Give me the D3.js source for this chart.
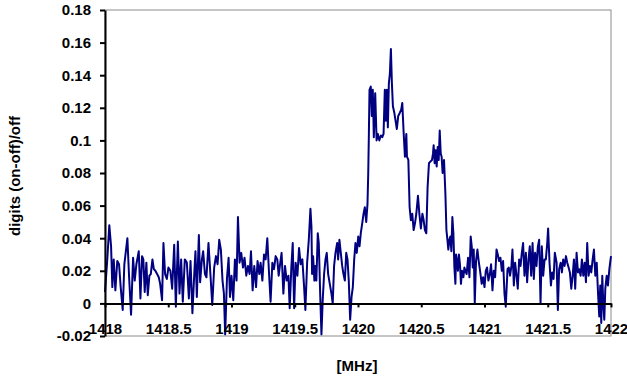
<!DOCTYPE html>
<html>
<head>
<meta charset="utf-8">
<script src="https://cdn.jsdelivr.net/npm/d3@7"></script>
<style>
  html, body { margin: 0; padding: 0; background: #fff; }
  svg { display: block; }
  text { font-family: Arial, "Liberation Sans", sans-serif; font-weight: bold; }
</style>
</head>
<body>
<svg id="chart" width="627" height="379"></svg>
<script>
// ---- data ----
const freqs = [
1418.000,1418.018,1418.034,1418.048,1418.058,1418.069,1418.082,1418.097,1418.111,1418.124,
1418.140,1418.153,1418.177,1418.190,1418.206,1418.222,1418.235,1418.248,1418.267,1418.280,
1418.293,1418.303,1418.314,1418.327,1418.338,1418.351,1418.362,1418.375,1418.386,1418.398,
1418.412,1418.425,1418.436,1418.451,1418.462,1418.475,1418.489,1418.501,1418.517,1418.531,
1418.547,1418.560,1418.576,1418.589,1418.602,1418.615,1418.631,1418.647,1418.663,1418.676,
1418.691,1418.705,1418.715,1418.726,1418.742,1418.752,1418.766,1418.776,1418.790,1418.802,
1418.818,1418.834,1418.848,1418.863,1418.877,1418.890,1418.903,1418.916,1418.929,1418.940,
1418.950,1418.964,1418.977,1418.988,1419.000,1419.014,1419.027,1419.040,1419.051,1419.064,
1419.077,1419.091,1419.103,1419.117,1419.130,1419.143,1419.154,1419.167,1419.180,1419.194,
1419.206,1419.220,1419.230,1419.244,1419.257,1419.270,1419.283,1419.297,1419.309,1419.323,
1419.336,1419.349,1419.362,1419.373,1419.384,1419.396,1419.410,1419.423,1419.436,1419.450,
1419.460,1419.473,1419.484,1419.495,1419.507,1419.521,1419.534,1419.547,1419.560,1419.574,
1419.584,1419.598,1419.611,1419.624,1419.632,1419.637,1419.645,1419.655,1419.663,1419.671,
1419.682,1419.690,1419.701,1419.711,1419.721,1419.732,1419.743,1419.753,1419.764,1419.777,
1419.790,1419.800,1419.811,1419.822,1419.835,1419.843,1419.853,1419.864,1419.875,1419.885,
1419.896,1419.907,1419.917,1419.927,1419.938,1419.949,1419.959,1419.970,1419.980,1419.990,
1420.002,1420.012,1420.022,1420.033,1420.044,1420.054,1420.065,1420.075,1420.081,1420.086,
1420.091,1420.101,1420.109,1420.117,1420.125,1420.136,1420.147,1420.157,1420.168,1420.181,
1420.192,1420.202,1420.212,1420.220,1420.228,1420.236,1420.244,1420.252,1420.260,1420.268,
1420.276,1420.287,1420.297,1420.307,1420.318,1420.331,1420.342,1420.350,1420.360,1420.371,
1420.382,1420.387,1420.398,1420.408,1420.418,1420.429,1420.440,1420.450,1420.461,1420.474,
1420.485,1420.497,1420.509,1420.519,1420.529,1420.540,1420.550,1420.561,1420.572,1420.585,
1420.593,1420.598,1420.606,1420.614,1420.622,1420.630,1420.638,1420.646,1420.654,1420.661,
1420.669,1420.680,1420.691,1420.699,1420.707,1420.714,1420.722,1420.730,1420.738,1420.746,
1420.754,1420.762,1420.770,1420.775,1420.783,1420.790,1420.798,1420.806,1420.814,1420.822,
1420.833,1420.841,1420.849,1420.859,1420.870,1420.881,1420.891,1420.899,1420.907,1420.915,
1420.923,1420.933,1420.944,1420.954,1420.965,1420.978,1420.989,1421.000,1421.010,1421.020,
1421.031,1421.042,1421.052,1421.063,1421.073,1421.084,1421.095,1421.105,1421.115,1421.126,
1421.137,1421.147,1421.158,1421.168,1421.182,1421.192,1421.202,1421.213,1421.221,1421.232,
1421.242,1421.253,1421.263,1421.274,1421.285,1421.295,1421.305,1421.316,1421.327,1421.337,
1421.348,1421.358,1421.369,1421.380,1421.390,1421.400,1421.411,1421.422,1421.432,1421.443,
1421.453,1421.464,1421.475,1421.485,1421.496,1421.503,1421.514,1421.525,1421.535,1421.546,
1421.556,1421.570,1421.580,1421.590,1421.602,1421.612,1421.622,1421.633,1421.644,1421.654,
1421.665,1421.675,1421.686,1421.697,1421.707,1421.717,1421.728,1421.739,1421.749,1421.760,
1421.770,1421.781,1421.792,1421.802,1421.812,1421.823,1421.834,1421.844,1421.855,1421.865,
1421.876,1421.887,1421.897,1421.907,1421.915,1421.923,1421.931,1421.939,1421.947,1421.955,
1421.966,1421.976,1421.987,1422.000
];
const ratio = [
0.007,0.027,0.048,0.035,0.010,0.027,0.008,0.026,0.024,0.010,
-0.004,0.024,0.040,0.017,-0.007,0.028,0.014,0.024,0.032,0.003,
0.029,0.027,0.007,0.025,0.005,0.017,0.018,0.027,0.021,0.020,
0.018,0.016,0.012,0.002,0.037,0.018,0.015,0.022,0.020,0.009,
0.036,-0.002,0.038,0.006,0.027,0.001,0.027,0.025,0.003,0.026,
-0.006,0.017,0.032,0.004,0.042,0.013,0.027,0.032,0.018,0.016,
0.037,0.017,-0.001,0.022,0.029,0.024,0.039,0.033,0.014,0.006,
-0.019,0.015,0.028,0.004,0.017,0.002,0.027,0.014,0.053,0.025,
0.031,0.022,0.028,0.017,0.023,0.018,0.032,0.008,0.023,0.010,
0.026,0.018,0.025,0.014,0.030,0.027,0.040,0.018,0.001,0.025,
0.021,0.029,0.027,0.017,0.024,0.031,0.006,0.023,0.014,0.017,
-0.003,0.022,0.037,-0.003,0.025,0.017,0.034,0.024,0.027,0.010,
-0.004,0.025,0.039,0.058,0.047,0.018,0.029,0.014,0.023,0.014,
0.043,0.037,0.006,-0.019,0.002,0.018,0.027,0.031,0.018,0.012,
0.006,0.000,0.023,0.031,0.037,0.027,0.039,0.031,0.023,0.018,
0.014,0.031,0.027,0.014,-0.010,0.004,0.010,0.027,0.037,0.031,
0.041,0.035,0.043,0.049,0.055,0.059,0.050,0.061,0.080,0.104,
0.131,0.133,0.115,0.131,0.102,0.129,0.100,0.104,0.100,0.103,
0.102,0.104,0.131,0.112,0.131,0.108,0.135,0.141,0.156,0.135,
0.121,0.117,0.112,0.107,0.115,0.117,0.119,0.123,0.106,0.090,
0.104,0.090,0.088,0.059,0.051,0.055,0.045,0.049,0.055,0.066,
0.055,0.046,0.055,0.051,0.045,0.043,0.071,0.086,0.087,0.088,
0.092,0.097,0.086,0.094,0.084,0.096,0.088,0.106,0.092,0.090,
0.080,0.088,0.067,0.045,0.039,0.033,0.039,0.041,0.032,0.053,
0.043,0.022,0.012,0.030,0.026,0.020,0.030,0.024,0.012,0.020,
0.016,0.022,0.020,0.018,0.028,0.016,0.041,0.035,0.022,0.033,
0.000,0.026,0.033,0.026,0.020,0.012,0.016,0.010,0.020,0.022,
0.014,0.018,0.024,0.008,0.020,0.016,0.033,0.030,0.026,0.028,
0.020,0.026,0.006,-0.002,0.021,0.022,0.017,0.023,0.033,0.011,
0.025,0.017,0.009,0.027,0.023,0.031,0.037,0.017,0.031,0.013,
0.027,0.035,0.017,0.037,0.015,0.031,0.023,0.035,0.039,0.000,
0.035,0.017,0.027,0.027,0.037,0.046,0.025,0.011,0.019,0.015,
0.031,0.025,-0.004,0.021,0.025,0.019,0.027,0.023,0.029,0.025,
0.022,0.019,0.009,0.017,0.027,0.009,0.031,0.019,0.021,0.017,
0.027,0.017,0.025,0.013,0.037,0.017,0.023,0.019,0.027,0.033,
0.017,0.025,0.007,-0.008,0.011,-0.012,0.017,0.000,-0.010,0.009,
0.017,0.011,0.021,0.029
];
const xTickValues = [1418, 1418.5, 1419, 1419.5, 1420, 1420.5, 1421, 1421.5, 1422];
const xTickLabels = ["1418", "1418.5", "1419", "1419.5", "1420", "1420.5", "1421", "1421.5", "1422"];
const yTickValues = [-0.02, 0, 0.02, 0.04, 0.06, 0.08, 0.1, 0.12, 0.14, 0.16, 0.18];
const yTickLabels = ["-0.02", "0", "0.02", "0.04", "0.06", "0.08", "0.1", "0.12", "0.14", "0.16", "0.18"];
const xTitle = "[MHz]";
const yTitle = "digits (on-off)/off";

// ---- layout ----
const svg = d3.select("#chart");
const L = 105, R = 611, T = 10, B = 336;
const fontSize = 15;

const x = d3.scaleLinear().domain([1418, 1422]).range([L, R]);
const y = d3.scaleLinear().domain([-0.02, 0.18]).range([B, T]);

// plot-area border
svg.append("rect")
  .attr("x", L).attr("y", T).attr("width", R - L).attr("height", B - T)
  .attr("fill", "none").attr("stroke", "#8c8c8c").attr("stroke-width", 1);

// data line
const pts = freqs.map((f, i) => [f, ratio[i]]);
svg.append("path")
  .datum(pts)
  .attr("fill", "none")
  .attr("stroke", "#000080")
  .attr("stroke-width", 2)
  .attr("stroke-linejoin", "round")
  .attr("d", d3.line().x(d => x(d[0])).y(d => y(d[1])));

// y axis
const yAxis = svg.append("g")
  .attr("transform", `translate(${L},0)`)
  .call(d3.axisLeft(y).tickValues(yTickValues)
    .tickFormat((d, i) => yTickLabels[i]).tickSize(5).tickSizeOuter(0).tickPadding(9));
yAxis.selectAll("path, line").attr("stroke", "#000").attr("stroke-width", 2);
yAxis.selectAll("text").attr("font-size", fontSize).attr("fill", "#000")
  .style("font-family", "Arial, 'Liberation Sans', sans-serif").style("font-weight", "bold");

// x axis at y = 0
const xAxis = svg.append("g")
  .attr("transform", `translate(0,${y(0)})`)
  .call(d3.axisBottom(x).tickValues(xTickValues)
    .tickFormat((d, i) => xTickLabels[i]).tickSize(4).tickSizeOuter(0).tickPadding(16));
xAxis.selectAll("path, line").attr("stroke", "#000").attr("stroke-width", 2);
xAxis.selectAll("text").attr("font-size", fontSize).attr("fill", "#000")
  .style("font-family", "Arial, 'Liberation Sans', sans-serif").style("font-weight", "bold");

// axis titles
svg.append("text")
  .attr("x", 357).attr("y", 371)
  .attr("text-anchor", "middle")
  .attr("font-size", fontSize)
  .text(xTitle);

svg.append("text")
  .attr("transform", "translate(20,176) rotate(-90)")
  .attr("text-anchor", "middle")
  .attr("font-size", fontSize)
  .text(yTitle);
</script>
</body>
</html>
